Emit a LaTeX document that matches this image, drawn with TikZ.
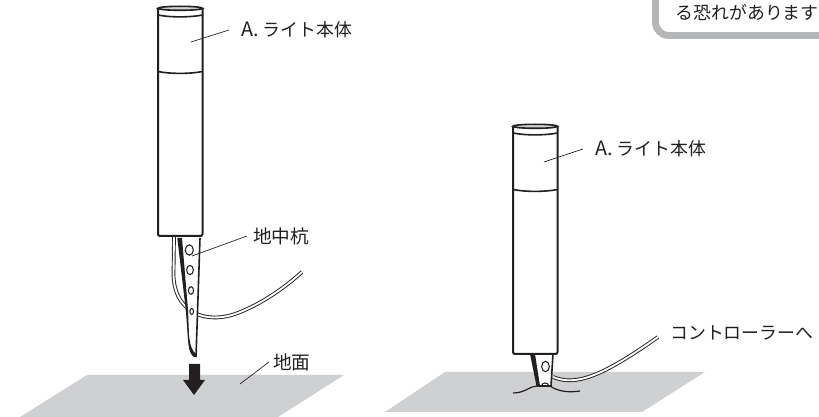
\documentclass[tikz,border=0pt]{standalone}
\usepackage{fontspec}
\newfontfamily\cjk{Noto Sans CJK JP}
\definecolor{groundgray}{HTML}{CFD0D2}
\definecolor{boxgray}{HTML}{B4B6B8}
\definecolor{inkblack}{HTML}{231F20}
\newcommand{\bodylabel}{{\fontsize{14.8pt}{15pt}\selectfont A.}\hspace{3pt}ライト本体}
\tikzset{
  lampline/.style={draw=inkblack, line width=1.5pt, fill=white},
  leader/.style={draw=inkblack, line width=0.5pt},
  lbl/.style={font=\cjk\fontsize{13.4pt}{15pt}\selectfont, text=inkblack, inner sep=0pt, anchor=west},
  wire/.style={draw=inkblack, line width=0.7pt, double=white, double distance=1.4pt},
  lamp/.pic={
    \draw [lampline, rounded corners=1.5pt] (0,1.5) -- (0,229.5) -- (44.5,229.5) -- (44.5,1.5);
    \draw [lampline, fill=boxgray!60, line width=1.2pt] (22.25,1.8) ellipse [x radius=22.25, y radius=2];
    \draw [lampline, fill=none, line width=1.2pt] (0,8.5) .. controls (12,11) and (32,11) .. (44.5,8.5);
    \draw [lampline, fill=none, line width=1.2pt] (0,65) .. controls (12,67.5) and (32,67.5) .. (44.5,65);
  }
}
\begin{document}
\begin{tikzpicture}[x=0.75pt, y=-0.75pt]
  \useasboundingbox (0,0) rectangle (819,417);
  % ground
  \fill [groundgray] (87,375) -- (344,375) -- (278,417) -- (20,417) -- cycle;
  \fill [groundgray] (445,372) -- (705,372) -- (642,412) -- (385,412) -- cycle;
  % left side
  \draw [wire] (174,236) -- (173.5,275) .. controls (174,292) and (180,303) .. (191,311) .. controls (198,316) and (215,321) .. (235,314) .. controls (255,307) and (280,292) .. (302,272);
  \fill [white] (178,238) -- (200,238) -- (196,356) -- (193,356) .. controls (189,352) and (187,340) .. (186,312) -- cycle;
  \fill [inkblack] (177.3,238) -- (182,238) -- (188,310) -- (189,335) .. controls (190,345) and (192,351) .. (196,354) -- (196,357) -- (194,357) .. controls (191,355) and (189,352) .. (188,340) -- (186,312) -- cycle;
  \draw [inkblack, line width=1.2pt] (200,238) -- (196,357);
  \foreach \holex/\holey/\holer in {189.3/250/5.2, 190/270/4.6, 191/290.5/3.8, 191.7/311.5/3}
    \draw [inkblack, line width=0.8pt, fill=white] (\holex,\holey) ellipse [x radius=\holer-1.2, y radius=\holer];
  \pic at (158,6.5) {lamp};
  \fill [inkblack] (189,364) -- (200,364) -- (200,380) -- (205,380) -- (194,395) -- (183,380) -- (189,380) -- cycle;
  % right side
  \draw [wire] (553,377) .. controls (575,386) and (600,378) .. (658,337);
  \draw [inkblack, line width=0.9pt] (513,393) .. controls (525,393) and (530,386) .. (537,386);
  \draw [inkblack, line width=0.9pt] (550,386) .. controls (557,391) and (568,393) .. (580,391);
  \fill [white] (530,354) -- (553,354) -- (551,386) -- (537,386) -- cycle;
  \fill [inkblack] (530,354) -- (535,354) -- (540,386) -- (536.5,386) -- cycle;
  \draw [inkblack, line width=1.2pt] (553,354) -- (551,386) -- (537,386);
  \draw [inkblack, line width=0.8pt, fill=white] (545.5,366.5) ellipse [x radius=3.8, y radius=5.2];
  \draw [inkblack, line width=0.8pt] (541.5,386) .. controls (542,382) and (548,382) .. (549,386);
  \pic at (513,124.5) {lamp};
  % labels
  \node [lbl, inner xsep=12*0.75pt] (bodyA) at (229,30) {\bodylabel};
  \node [lbl, inner xsep=12*0.75pt] (bodyB) at (583,149) {\bodylabel};
  \node [lbl, font=\cjk\fontsize{14pt}{15pt}\selectfont, inner xsep=6*0.75pt] (stake) at (247,236) {地中杭};
  \node [lbl, font=\cjk\fontsize{14pt}{15pt}\selectfont, inner xsep=4*0.75pt] (ground) at (269,362) {地面};
  \node [lbl] (ctrl) at (670,333) {コントローラーへ};
  \coordinate (bodyAend) at (191,42);
  \coordinate (bodyBend) at (544,162);
  \coordinate (stakeend) at (192,256);
  \coordinate (groundend) at (240,384);
  \draw [leader] (bodyA.west) -- (bodyAend);
  \draw [leader] (bodyB.west) -- (bodyBend);
  \draw [leader] (stake.west) -- (stakeend);
  \draw [leader] (ground.west) -- (groundend);
  % note box
  \draw [boxgray, line width=5.2pt, rounded corners=10pt] (655.5,-20) -- (655.5,35.5) -- (830,35.5);
  \node [lbl] (note) at (675.5,13) {る恐れがあります};
\end{tikzpicture}
\end{document}
